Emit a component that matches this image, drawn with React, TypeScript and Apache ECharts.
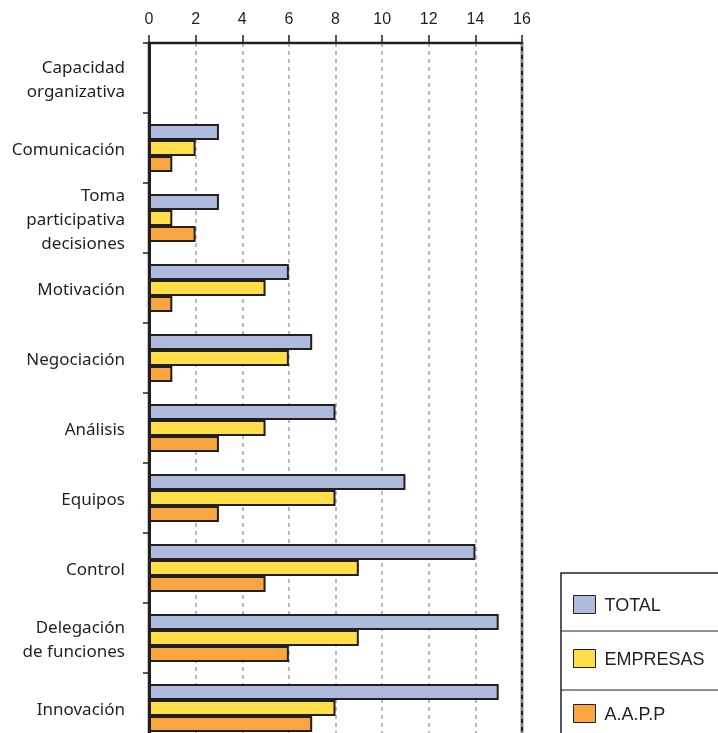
import React, { useEffect, useRef } from "react";
import * as echarts from "echarts";

const categories = [
  "Capacidad\norganizativa",
  "Comunicación",
  "Toma\nparticipativa\ndecisiones",
  "Motivación",
  "Negociación",
  "Análisis",
  "Equipos",
  "Control",
  "Delegación\nde funciones",
  "Innovación",
];
const totalValues = [0, 3, 3, 6, 7, 8, 11, 14, 15, 15];
const empresasValues = [0, 2, 1, 5, 6, 5, 8, 9, 9, 8];
const aappValues = [0, 1, 2, 1, 1, 3, 3, 5, 6, 7];
const seriesNames = ["TOTAL", "EMPRESAS", "A.A.P.P"];
const xTicks = { min: 0, max: 16, interval: 2 };

const colors = ["#aebbdf", "#ffde4a", "#f9a640"];
const ink = "#231f20";

export default function App() {
  const ref = useRef<HTMLDivElement>(null);
  useEffect(() => {
    if (!ref.current) return;
    const chart = echarts.init(ref.current, null, { renderer: "svg" });
    const dataSets = [totalValues, empresasValues, aappValues];
    const legendTops = [595, 649, 704];
    chart.setOption({
      animation: false,
      grid: {
        left: 149,
        right: 196,
        top: 43,
        height: 700,
        show: true,
        borderColor: ink,
        borderWidth: 2.5,
        outerBoundsMode: "none",
        containLabel: false,
      },
      xAxis: {
        type: "value",
        position: "top",
        min: xTicks.min,
        max: xTicks.max,
        interval: xTicks.interval,
        axisLine: { show: true, lineStyle: { color: ink, width: 2 } },
        axisTick: { show: true, length: 8, lineStyle: { color: ink, width: 1.5 } },
        axisLabel: {
          color: ink,
          fontSize: 16,
          fontFamily: "Liberation Sans, Arial, sans-serif",
          margin: 17,
        },
        splitLine: {
          show: true,
          lineStyle: { color: "#a3a3a3", type: [4, 4], width: 1.5 },
        },
      },
      yAxis: {
        type: "category",
        inverse: true,
        data: categories,
        axisLine: { show: true, lineStyle: { color: ink, width: 3 } },
        axisTick: { show: true, length: 6, lineStyle: { color: ink, width: 1.5 } },
        axisLabel: {
          color: ink,
          fontSize: 17,
          lineHeight: 24,
          fontFamily: "Noto Sans, sans-serif",
          margin: 24,
          align: "right",
        },
        splitLine: { show: false },
      },
      legend: seriesNames.map((name, i) => ({
        orient: "vertical",
        left: 573,
        top: legendTops[i],
        padding: 0,
        itemWidth: 22,
        itemHeight: 18,
        icon: "rect",
        data: [name],
        textStyle: {
          color: ink,
          fontSize: 18,
          fontFamily: "Liberation Sans, Arial, sans-serif",
          padding: [0, 0, 0, 4],
        },
        itemStyle: { borderWidth: 1, borderColor: ink },
      })),
      graphic: [
        {
          type: "rect",
          shape: { x: 561, y: 573, width: 200, height: 200 },
          style: { fill: "none", stroke: ink, lineWidth: 1.5 },
          silent: true,
        },
        {
          type: "line",
          shape: { x1: 561, y1: 631, x2: 718, y2: 631 },
          style: { stroke: ink, lineWidth: 1 },
          silent: true,
        },
        {
          type: "line",
          shape: { x1: 561, y1: 690, x2: 718, y2: 690 },
          style: { stroke: ink, lineWidth: 1 },
          silent: true,
        },
      ],
      series: seriesNames.map((name, i) => ({
        name,
        type: "bar",
        data: dataSets[i],
        barWidth: 16,
        barGap: "0%",
        itemStyle: { color: colors[i], borderColor: ink, borderWidth: 2 },
      })),
    });
    return () => chart.dispose();
  }, []);
  return (
    <div
      ref={ref}
      style={{ position: "fixed", left: 0, top: 0, width: 718, height: 733, overflow: "hidden" }}
    />
  );
}
